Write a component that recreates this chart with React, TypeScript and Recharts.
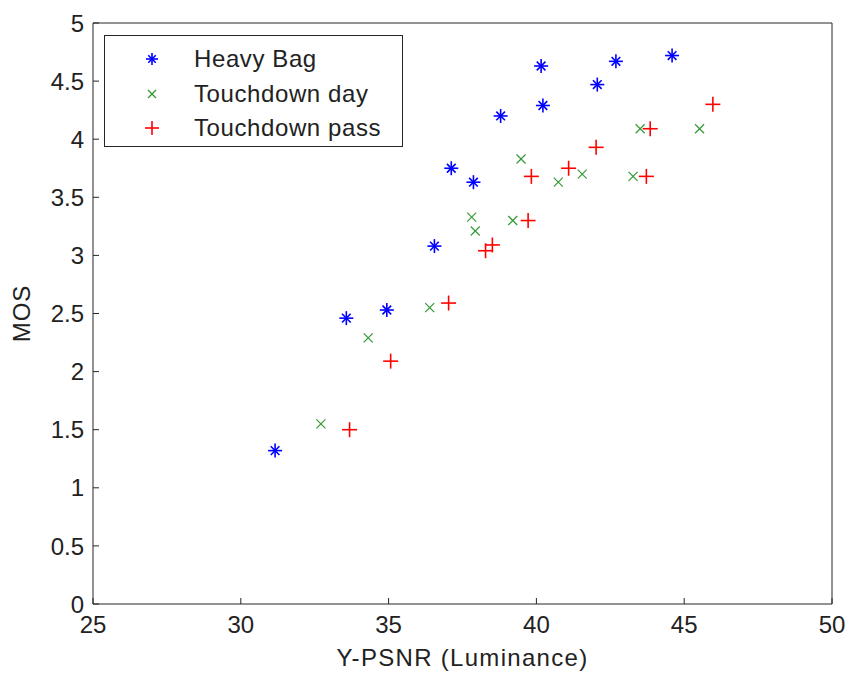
import {
  ScatterChart,
  Scatter,
  XAxis,
  YAxis,
  Legend,
} from 'recharts';

const FONT = '"Liberation Sans", Arial, sans-serif';

// values
const heavyBagPsnr = [31.16, 33.57, 34.94, 36.55, 37.12, 37.87, 38.79, 40.16, 40.22, 42.06, 42.69, 44.59];
const heavyBagMos = [1.32, 2.46, 2.53, 3.08, 3.75, 3.63, 4.2, 4.63, 4.29, 4.47, 4.67, 4.72];

const dayPsnr = [32.71, 34.31, 36.39, 37.81, 37.93, 39.2, 39.48, 40.74, 41.55, 43.27, 43.51, 45.52];
const dayMos = [1.55, 2.29, 2.55, 3.33, 3.21, 3.3, 3.83, 3.63, 3.7, 3.68, 4.09, 4.09];

const passPsnr = [33.68, 35.07, 37.03, 38.28, 38.51, 39.72, 39.83, 41.09, 42.02, 43.72, 43.85, 45.97];
const passMos = [1.5, 2.09, 2.59, 3.04, 3.09, 3.3, 3.68, 3.75, 3.93, 3.68, 4.09, 4.3];

const xTicks = [25, 30, 35, 40, 45, 50];
const yTicks = [0, 0.5, 1, 1.5, 2, 2.5, 3, 3.5, 4, 4.5, 5];

const seriesNames = ['Heavy Bag', 'Touchdown day', 'Touchdown pass'];

const toPoints = (xs: number[], ys: number[]) => xs.map((x, i) => ({ x, y: ys[i] }));

const heavyBag = toPoints(heavyBagPsnr, heavyBagMos);
const touchdownDay = toPoints(dayPsnr, dayMos);
const touchdownPass = toPoints(passPsnr, passMos);

const BLUE = '#0000ff';
const GREEN = '#008000';
const RED = '#ff0000';
const AXIS = '#262626';

function Asterisk({ cx, cy, size = 7 }: { cx: number; cy: number; size?: number }) {
  const d = size * 0.62;
  return (
    <g stroke={BLUE} strokeWidth={1.6}>
      <line x1={cx - size} y1={cy} x2={cx + size} y2={cy} />
      <line x1={cx} y1={cy - size} x2={cx} y2={cy + size} />
      <line x1={cx - d} y1={cy - d} x2={cx + d} y2={cy + d} />
      <line x1={cx - d} y1={cy + d} x2={cx + d} y2={cy - d} />
    </g>
  );
}

function Cross({ cx, cy, size = 4.5 }: { cx: number; cy: number; size?: number }) {
  return (
    <g stroke={GREEN} strokeWidth={1.2} opacity={0.8}>
      <line x1={cx - size} y1={cy - size} x2={cx + size} y2={cy + size} />
      <line x1={cx - size} y1={cy + size} x2={cx + size} y2={cy - size} />
    </g>
  );
}

function Plus({ cx, cy, size = 7.5 }: { cx: number; cy: number; size?: number }) {
  return (
    <g stroke={RED} strokeWidth={1.6}>
      <line x1={cx - size} y1={cy} x2={cx + size} y2={cy} />
      <line x1={cx} y1={cy - size} x2={cx} y2={cy + size} />
    </g>
  );
}

// tick labels; the inward tick marks come from a negative tickSize
const BottomTick = (props: any) => {
  const { x, y, payload } = props;
  return (
    <text x={x} y={y} dy="0.71em" textAnchor="middle" fontSize={24} fontFamily={FONT} fill="#222">
      {payload.value}
    </text>
  );
};

const LeftTick = (props: any) => {
  const { x, y, payload } = props;
  return (
    <text x={x} y={y} dy="0.36em" textAnchor="end" fontSize={24} fontFamily={FONT} fill="#222">
      {payload.value}
    </text>
  );
};

const NoLabel = () => <g />;

const legendMarkers = [
  <Asterisk cx={12} cy={12} size={6} />,
  <Cross cx={12} cy={12} size={4} />,
  <Plus cx={12} cy={12} size={7} />,
];

function LegendBox() {
  return (
    <div
      style={{
        position: 'relative',
        width: 297,
        height: 110,
        border: `1px solid ${AXIS}`,
        background: '#fff',
        fontFamily: FONT,
        fontSize: 24,
        color: '#222',
      }}
    >
      {seriesNames.map((name, i) => (
        <div
          key={name}
          style={{ position: 'absolute', left: 35, top: 6 + i * 34.5, height: 34, display: 'flex', alignItems: 'center' }}
        >
          <svg width={24} height={24} style={{ overflow: 'visible' }}>
            {legendMarkers[i]}
          </svg>
          <span style={{ marginLeft: 30, letterSpacing: 0.6, whiteSpace: 'nowrap' }}>{name}</span>
        </div>
      ))}
    </div>
  );
}

export default function App() {
  return (
    <div style={{ position: 'fixed', left: 0, top: 0, width: 849, height: 677, background: '#fff' }}>
      <ScatterChart width={849} height={677} margin={{ top: 22, right: 16, bottom: 0, left: 0 }}>
        <XAxis
          type="number"
          dataKey="x"
          xAxisId="bottom"
          domain={[25, 50]}
          ticks={xTicks}
          allowDataOverflow
          height={73}
          stroke={AXIS}
          tickLine={{ stroke: AXIS }}
          tickSize={-6}
          tickMargin={18}
          tick={BottomTick}
          label={{
            value: 'Y-PSNR (Luminance)',
            position: 'insideBottom',
            offset: 11,
            fontSize: 24,
            fontFamily: FONT,
            fill: '#222',
            style: { letterSpacing: 1.3 },
          }}
        />
        <XAxis
          type="number"
          dataKey="x"
          xAxisId="top"
          orientation="top"
          domain={[25, 50]}
          ticks={xTicks}
          height={1}
          stroke={AXIS}
          tickLine={{ stroke: AXIS }}
          tickSize={-6}
          tickMargin={0}
          tick={NoLabel}
        />
        <YAxis
          type="number"
          dataKey="y"
          yAxisId="left"
          domain={[0, 5]}
          ticks={yTicks}
          width={93}
          stroke={AXIS}
          tickLine={{ stroke: AXIS }}
          tickSize={-6}
          tickMargin={15}
          tick={LeftTick}
          label={{
            value: 'MOS',
            angle: -90,
            position: 'insideLeft',
            offset: 21,
            fontSize: 24,
            fontFamily: FONT,
            fill: '#222',
            style: { textAnchor: 'middle', letterSpacing: 1 },
          }}
        />
        <YAxis
          type="number"
          dataKey="y"
          yAxisId="right"
          orientation="right"
          domain={[0, 5]}
          ticks={yTicks}
          width={1}
          stroke={AXIS}
          tickLine={{ stroke: AXIS }}
          tickSize={-6}
          tickMargin={0}
          tick={NoLabel}
        />
        <Legend
          layout="horizontal"
          verticalAlign="middle"
          align="center"
          wrapperStyle={{ position: 'absolute', left: 104, top: 35, width: 299, height: 112 }}
          content={() => <LegendBox />}
        />
        <Scatter
          name="Heavy Bag"
          data={heavyBag}
          xAxisId="bottom"
          yAxisId="left"
          isAnimationActive={false}
          shape={(p: any) => <Asterisk cx={p.cx} cy={p.cy} />}
        />
        <Scatter
          name="Touchdown day"
          data={touchdownDay}
          xAxisId="bottom"
          yAxisId="left"
          isAnimationActive={false}
          shape={(p: any) => <Cross cx={p.cx} cy={p.cy} />}
        />
        <Scatter
          name="Touchdown pass"
          data={touchdownPass}
          xAxisId="bottom"
          yAxisId="left"
          isAnimationActive={false}
          shape={(p: any) => <Plus cx={p.cx} cy={p.cy} />}
        />
      </ScatterChart>
    </div>
  );
}
